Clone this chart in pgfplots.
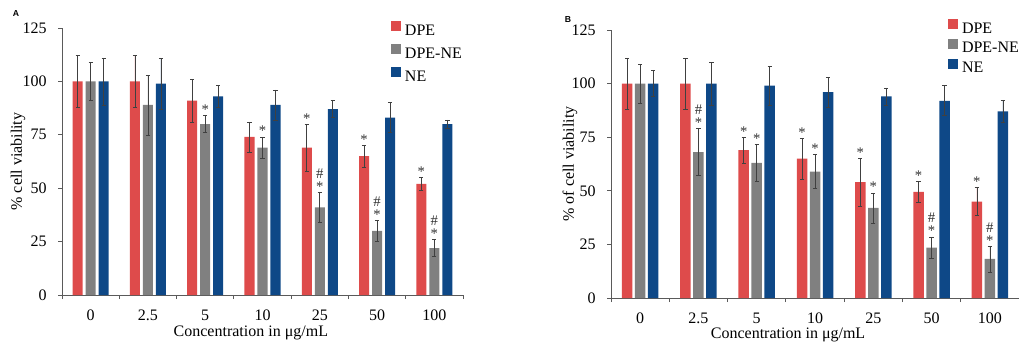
\documentclass[border=0pt]{standalone}
\usepackage{fontspec}
\setmainfont{Liberation Serif}
\newfontfamily\labelsans{Liberation Sans}
\usepackage{pgfplots}
\pgfplotsset{compat=1.18}

\definecolor{cred}{RGB}{222,75,75}
\definecolor{cgray}{RGB}{128,128,128}
\definecolor{cblue}{RGB}{14,72,135}
\definecolor{caxis}{RGB}{90,90,90}

\newcommand{\st}[2]{\node[anchor=base, inner sep=0pt, yshift=0.8pt, text=black!80, font=\fontsize{11}{11}\selectfont] at (axis cs:#1,#2) {*};}
\newcommand{\sh}[2]{\st{#1}{#2}\node[anchor=base, inner sep=0pt, yshift=10.5pt, text=black!80, font=\fontsize{11}{11}\selectfont] at (axis cs:#1,#2) {\#};}

\pgfplotsset{
  panel/.style={
    scale only axis,
    axis lines=left, axis line style={-, caxis, line width=0.6pt},
    ybar, ymin=0, ymax=125, ytick={0,25,...,125},
    xmin=-0.5, xmax=6.5,
    xtick={0,...,6}, xticklabels={0,2.5,5,10,25,50,100},
    minor xtick={-0.5,0.5,...,6.5},
    tick align=outside, major tick length=3pt, minor tick length=3pt,
    every tick/.style={caxis, line width=0.6pt},
    every major x tick/.style={draw=none},
    tick label style={font=\fontsize{12}{14}\selectfont},
    xticklabel style={yshift=-4.5pt},
    yticklabel style={xshift=-5pt},
    /pgf/number format/assume math mode=true,
    xlabel={Concentration in μg/mL},
    error bars/y dir=both, error bars/y explicit,
    error bars/error bar style={line width=0.45pt, draw=black!75},
    error bars/error mark options={rotate=90, mark size=1.6pt, line width=0.45pt, draw=black!75},
    legend image code/.code={\fill[##1, draw=none] (0pt,0pt) rectangle (7.5pt,7.5pt);},
    legend cell align=left,
    legend style={draw=none, fill=none, inner sep=0pt, outer sep=0pt, anchor=north west,
      font=\fontsize{12}{14}\selectfont,
      nodes={inner sep=0pt, text height=8.5pt, text depth=2.5pt},
      /tikz/every odd column/.append style={column sep=3pt}},
    clip=false,
  },
}

\begin{document}
\begin{tikzpicture}
\useasboundingbox (0,0) rectangle (764.25pt,258pt);

\begin{axis}[panel, at={(46.5pt,36.75pt)}, anchor=south west,
  width=300.75pt, height=200.25pt,
  ylabel={\% cell viability},
  every axis y label/.style={at={(axis description cs:-0.1097,0.5)}, rotate=90, anchor=center, font=\fontsize{12}{14}\selectfont},
  every axis x label/.style={at={(axis description cs:0.471,-0.1423)}, anchor=center, font=\fontsize{12}{14}\selectfont},
  legend style={at={(0.8204,1.026)}, row sep=4.4pt}]
\addplot[fill=cred, draw=none, bar width=0.175, bar shift=-0.227] coordinates {
 (0,100) +- (0,12) (1,100) +- (0,12) (2,91) +- (0,10) (3,74) +- (0,7)
 (4,69) +- (0,11) (5,65) +- (0,5) (6,52) +- (0,3)};
\addplot[fill=cgray, draw=none, bar width=0.175, bar shift=0] coordinates {
 (0,100) +- (0,9) (1,89) +- (0,14) (2,80) +- (0,4) (3,69) +- (0,5)
 (4,41) +- (0,7) (5,30) +- (0,5) (6,22) +- (0,4)};
\addplot[fill=cblue, draw=none, bar width=0.175, bar shift=0.227] coordinates {
 (0,100) +- (0,11) (1,99) +- (0,12) (2,93) +- (0,5) (3,89) +- (0,7)
 (4,87) +- (0,4) (5,83) +- (0,7) (6,80) +- (0,2)};
\legend{DPE,DPE-NE,NE}
\st{2}{84}
\st{3}{74}
\st{3.773}{80}
\sh{4}{48}
\st{4.773}{70}
\sh{5}{35}
\st{5.773}{55}
\sh{6}{26}
\end{axis}

\begin{axis}[panel, at={(458.25pt,34.5pt)}, anchor=south west,
  width=306pt, height=201pt,
  ylabel={\% of cell viability},
  every axis y label/.style={at={(axis description cs:-0.1005,0.5)}, rotate=90, anchor=center, font=\fontsize{12}{14}\selectfont},
  every axis x label/.style={at={(axis description cs:0.434,-0.139)}, anchor=center, font=\fontsize{12}{14}\selectfont},
  legend style={at={(0.826,1.040)}, row sep=1.75pt}]
\addplot[fill=cred, draw=none, bar width=0.18, bar shift=-0.223] coordinates {
 (0,100) +- (0,12) (1,100) +- (0,12) (2,69) +- (0,6) (3,65) +- (0,9.5)
 (4,54) +- (0,11) (5,49.5) +- (0,5) (6,45) +- (0,6.5)};
\addplot[fill=cgray, draw=none, bar width=0.18, bar shift=0] coordinates {
 (0,100) +- (0,9) (1,68) +- (0,11) (2,63) +- (0,8.5) (3,59) +- (0,8)
 (4,42) +- (0,7) (5,23.5) +- (0,5) (6,18.2) +- (0,6)};
\addplot[fill=cblue, draw=none, bar width=0.18, bar shift=0.223] coordinates {
 (0,100) +- (0,6) (1,100) +- (0,10) (2,99) +- (0,9) (3,96) +- (0,7)
 (4,94) +- (0,4) (5,92) +- (0,7) (6,87) +- (0,5)};
\legend{DPE,DPE-NE,NE}
\sh{1}{79}
\st{1.777}{75}
\st{2}{71.5}
\st{2.777}{74.5}
\st{3}{67}
\st{3.777}{65}
\st{4}{49}
\st{4.777}{54.5}
\sh{5}{28.5}
\st{5.777}{51.5}
\sh{6}{24.2}
\end{axis}

\node[font=\labelsans\bfseries\fontsize{6.5}{7}\selectfont, inner sep=0pt] at (12pt,247.5pt) {A};
\node[font=\labelsans\bfseries\fontsize{6.5}{7}\selectfont, inner sep=0pt] at (426pt,243.4pt) {B};
\end{tikzpicture}
\end{document}
